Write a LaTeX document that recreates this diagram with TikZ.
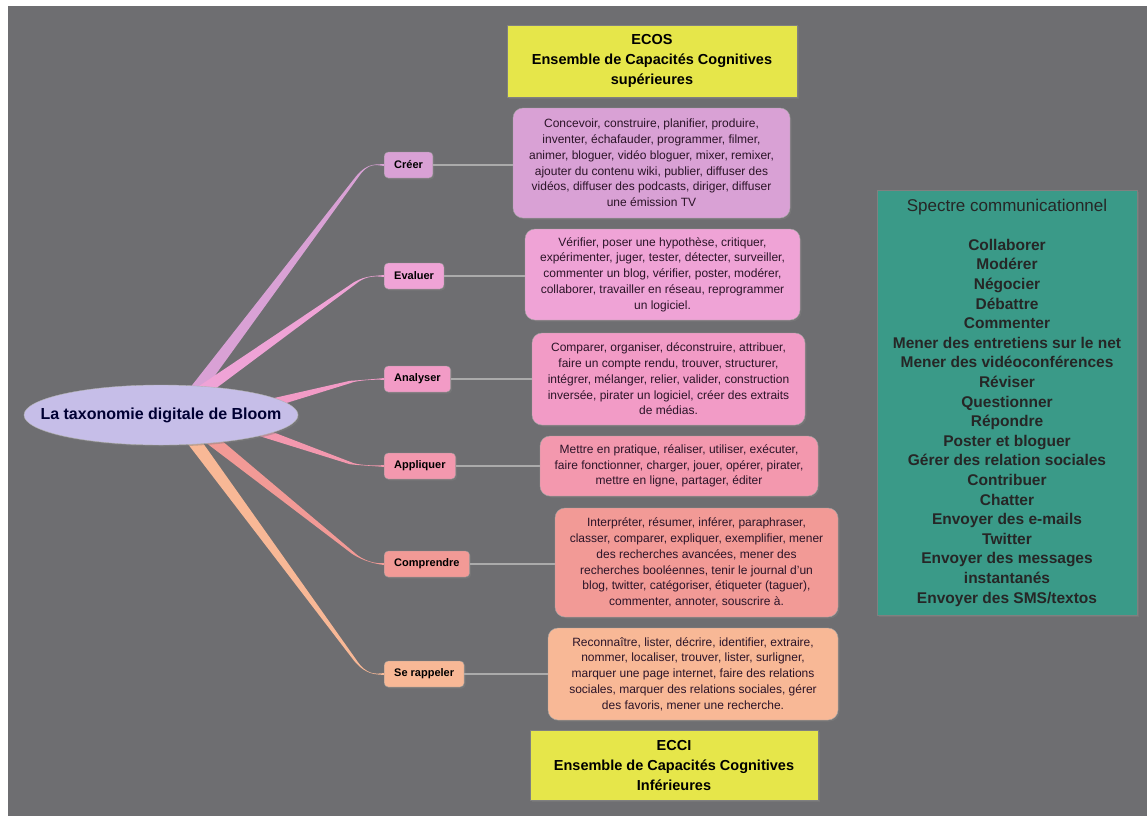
\documentclass[tikz,border=0pt]{standalone}
\usepackage{fontspec}
\setmainfont{Liberation Sans}
\usetikzlibrary{calc,shadows}

\definecolor{fond}{RGB}{110,110,113}
\definecolor{creerC}{HTML}{D9A1D5}
\definecolor{evaluerC}{HTML}{EFA3D6}
\definecolor{analyserC}{HTML}{F29BC6}
\definecolor{appliquerC}{HTML}{F398AE}
\definecolor{comprendreC}{HTML}{F29A96}
\definecolor{rappelerC}{HTML}{F8B896}
\definecolor{jaune}{HTML}{E6E64A}
\definecolor{vert}{HTML}{3A9A88}
\definecolor{mauve}{HTML}{C6BEE8}
\definecolor{lienGris}{HTML}{ABABAB}
\definecolor{texteSombre}{HTML}{2B1428}

\tikzset{
  ombre/.style={drop shadow={opacity=.45,shadow xshift=1.5pt,shadow yshift=-1.5pt}},
  niveau/.style={draw=black!40, rounded corners=4pt, anchor=west, ombre,
    minimum height=26pt, inner xsep=10pt,
    font=\fontsize{11}{13}\selectfont\bfseries, text=black},
  detail/.style={draw=black!35, rounded corners=10pt, ombre, align=center,
    inner sep=0pt, font=\fontsize{12}{15.8}\selectfont, text=texteSombre},
  cadre/.style={draw=black!50, ombre, align=center, inner sep=0pt,
    font=\fontsize{14.5}{20}\selectfont\bfseries, text=black},
  lien/.style={draw=lienGris, line width=1.5pt},
}

% branche effilee : couleur, depart, coude, arrivee, demi-largeur
\newcommand\branche[5]{%
  \fill[#1] ($(#2)!#5!90:(#3)$) -- ($(#3)!1.2pt!-90:(#2)$)
    .. controls ($(#2)!1.07!(#3)$) and ($(#4)+(-8,0)$) .. ($(#4)+(0,-1)$)
    -- ($(#4)+(0,1)$)
    .. controls ($(#4)+(-8,0)$) and ($(#2)!1.07!(#3)$) .. ($(#3)!1.2pt!90:(#2)$)
    -- ($(#2)!#5!-90:(#3)$) -- cycle;}

\begin{document}
\begin{tikzpicture}[x=1pt,y=-1pt]
  \useasboundingbox (0,0) rectangle (1147,816);
  \fill[white] (0,0) rectangle (1147,816);
  \fill[fond] (8,6) rectangle (1147,816); % fond gris

  % ensembles de capacites
  \node[cadre, fill=jaune, minimum width=290pt, minimum height=72pt] (ecos) at (652,61)
    {ECOS\\Ensemble de Capacités Cognitives\\supérieures};
  \node[cadre, fill=jaune, minimum width=288pt, minimum height=70pt] (ecci) at (674,765)
    {ECCI\\Ensemble de Capacités Cognitives\\Inférieures};

  % niveaux
  \node[niveau, fill=creerC] (creer) at (384,165) {Créer};
  \node[niveau, fill=evaluerC] (evaluer) at (384,276) {Evaluer};
  \node[niveau, fill=analyserC] (analyser) at (384,379) {Analyser};
  \node[niveau, fill=appliquerC] (appliquer) at (384,466) {Appliquer};
  \node[niveau, fill=comprendreC] (comprendre) at (384,564) {Comprendre};
  \node[niveau, fill=rappelerC] (rappeler) at (384,674) {Se rappeler};

  % verbes
  \node[detail, fill=creerC, minimum width=277pt, minimum height=110pt] (dcreer) at (651.5,163)
    {Concevoir, construire, planifier, produire,\\inventer, échafauder, programmer, filmer,\\animer, bloguer, vidéo bloguer, mixer, remixer,\\ajouter du contenu wiki, publier, diffuser des\\vidéos, diffuser des podcasts, diriger, diffuser\\une émission TV};
  \node[detail, fill=evaluerC, minimum width=275pt, minimum height=91pt] (devaluer) at (662.5,274.5)
    {Vérifier, poser une hypothèse, critiquer,\\expérimenter, juger, tester, détecter, surveiller,\\commenter un blog, vérifier, poster, modérer,\\collaborer, travailler en réseau, reprogrammer\\un logiciel.};
  \node[detail, fill=analyserC, minimum width=273pt, minimum height=92pt] (danalyser) at (668.5,379)
    {Comparer, organiser, déconstruire, attribuer,\\faire un compte rendu, trouver, structurer,\\intégrer, mélanger, relier, valider, construction\\inversée, pirater un logiciel, créer des extraits\\de médias.};
  \node[detail, fill=appliquerC, minimum width=278pt, minimum height=60pt] (dappliquer) at (679,466)
    {Mettre en pratique, réaliser, utiliser, exécuter,\\faire fonctionner, charger, jouer, opérer, pirater,\\mettre en ligne, partager, éditer};
  \node[detail, fill=comprendreC, minimum width=283pt, minimum height=109pt] (dcomprendre) at (696.5,562.5)
    {Interpréter, résumer, inférer, paraphraser,\\classer, comparer, expliquer, exemplifier, mener\\des recherches avancées, mener des\\recherches booléennes, tenir le journal d'un\\blog, twitter, catégoriser, étiqueter (taguer),\\commenter, annoter, souscrire à.};
  \node[detail, fill=rappelerC, minimum width=290pt, minimum height=92pt] (drappeler) at (693,674)
    {Reconnaître, lister, décrire, identifier, extraire,\\nommer, localiser, trouver, lister, surligner,\\marquer une page internet, faire des relations\\sociales, marquer des relations sociales, gérer\\des favoris, mener une recherche.};

  \foreach \n in {creer,evaluer,analyser,appliquer,comprendre,rappeler}
    \draw[lien] (\n.east) -- (\n.east -| d\n.west);

  % branches
  \coordinate (s1) at (195,392);  \coordinate (c1) at (357,177);
  \coordinate (s2) at (201,392);  \coordinate (c2) at (355,283);
  \coordinate (s3) at (268,404);  \coordinate (c3) at (350,382);
  \coordinate (s4) at (255,430);  \coordinate (c4) at (350,463);
  \coordinate (s5) at (207,436);  \coordinate (c5) at (353,553);
  \coordinate (s6) at (190,436);  \coordinate (c6) at (355,660);
  \branche{creerC}{s1}{c1}{creer.west}{6.5pt}
  \branche{evaluerC}{s2}{c2}{evaluer.west}{6pt}
  \branche{analyserC}{s3}{c3}{analyser.west}{4.5pt}
  \branche{appliquerC}{s4}{c4}{appliquer.west}{4.5pt}
  \branche{comprendreC}{s5}{c5}{comprendre.west}{6pt}
  \branche{rappelerC}{s6}{c6}{rappeler.west}{6.5pt}

  \fill[mauve, draw=black!30, ombre] (161,415) ellipse [x radius=137, y radius=30];
  \node[font=\fontsize{16}{18}\selectfont\bfseries, text=black!80!blue] (bloom) at (161,415)
    {La taxonomie digitale de Bloom};

  % spectre communicationnel
  \node[cadre, fill=vert, minimum width=260pt, minimum height=425pt,
    font=\fontsize{15.5}{19.6}\selectfont\bfseries, text=black!85] (spectre) at (1007,402.5)
    {{\mdseries\fontsize{17}{19.6}\selectfont Spectre communicationnel}\\[19.6pt]
     Collaborer\\Modérer\\Négocier\\Débattre\\Commenter\\Mener des entretiens sur le net\\
     Mener des vidéoconférences\\Réviser\\Questionner\\Répondre\\Poster et bloguer\\
     Gérer des relation sociales\\Contribuer\\Chatter\\Envoyer des e-mails\\Twitter\\
     Envoyer des messages\\instantanés\\Envoyer des SMS/textos};
\end{tikzpicture}
\end{document}
